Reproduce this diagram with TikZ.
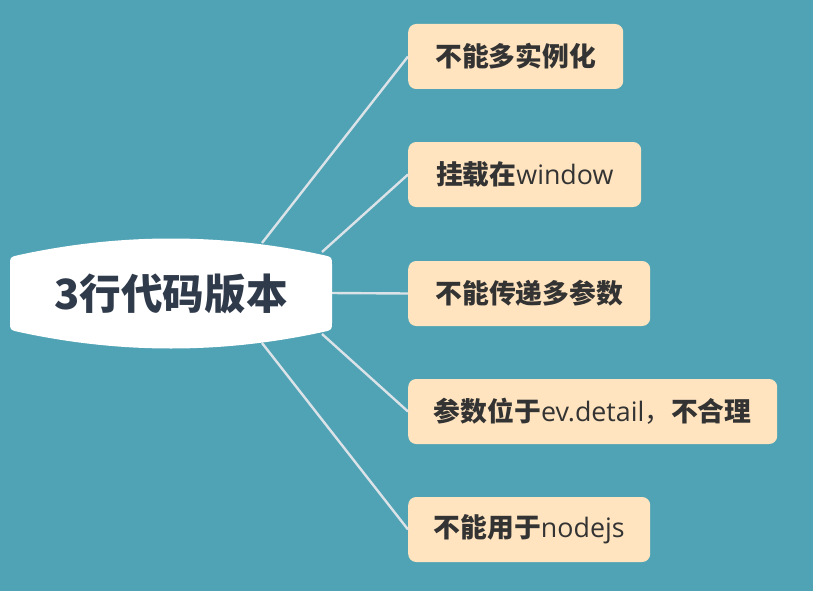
\documentclass[tikz,border=0pt]{standalone}
\usepackage{fontspec}
\setmainfont{Open Sans}
\newfontfamily\cjk{Noto Sans CJK SC}
\definecolor{bg}{HTML}{4FA3B4}
\definecolor{leaffill}{HTML}{FFE4BF}
\definecolor{leaftext}{HTML}{333333}
\definecolor{roottext}{HTML}{2F3A4A}
\definecolor{linkc}{HTML}{DCE3E8}
\newcommand{\B}[1]{{\cjk\bfseries #1}}
\newcommand{\R}[1]{{\cjk #1}}
\tikzset{
  leaf/.style={fill=leaffill, rounded corners=8pt, minimum height=65pt, anchor=west,
    text=leaftext, font=\fontsize{26.8}{30}\selectfont, inner sep=0pt},
  link/.style={draw=linkc, line width=2.4pt},
}
\begin{document}
\begin{tikzpicture}[x=1pt,y=-1pt]
\fill[bg] (0,0) rectangle (813,591);
\useasboundingbox (0,0) rectangle (813,591);
% connector start points on root
\coordinate (s1) at (262,243);
\coordinate (s2) at (322,252);
\coordinate (s3) at (330,293);
\coordinate (s4) at (322,334);
\coordinate (s5) at (262,343);
% leaves
\node[leaf, minimum width=215pt] (l1) at (408,56.5) {\B{不能多实例化}};
\node[leaf, minimum width=233pt] (l2) at (408,174.5) {\B{挂载在}window};
\node[leaf, minimum width=242pt] (l3) at (408,293.5) {\B{不能传递多参数}};
\node[leaf, minimum width=369pt] (l4) at (408,411.5) {\B{参数位于}ev.detail\R{，}\B{不合理}};
\node[leaf, minimum width=242pt] (l5) at (408,529.5) {\B{不能用于}nodejs};
\foreach \i in {1,...,5} \draw[link] (s\i) -- (l\i.west);
% root
\fill[white] (10,265) -- (10,322) .. controls (10,330) .. (19,332)
  .. controls (120,354) and (222,354) .. (323,332)
  .. controls (332,330) .. (332,322) -- (332,265)
  .. controls (332,257) .. (323,255)
  .. controls (222,233) and (120,233) .. (19,255)
  .. controls (10,257) .. (10,265) -- cycle;
\node[text=roottext, font=\fontsize{41.6}{46}\selectfont\cjk\bfseries, inner sep=0pt] (root) at (171,294) {3行代码版本};
\end{tikzpicture}
\end{document}
